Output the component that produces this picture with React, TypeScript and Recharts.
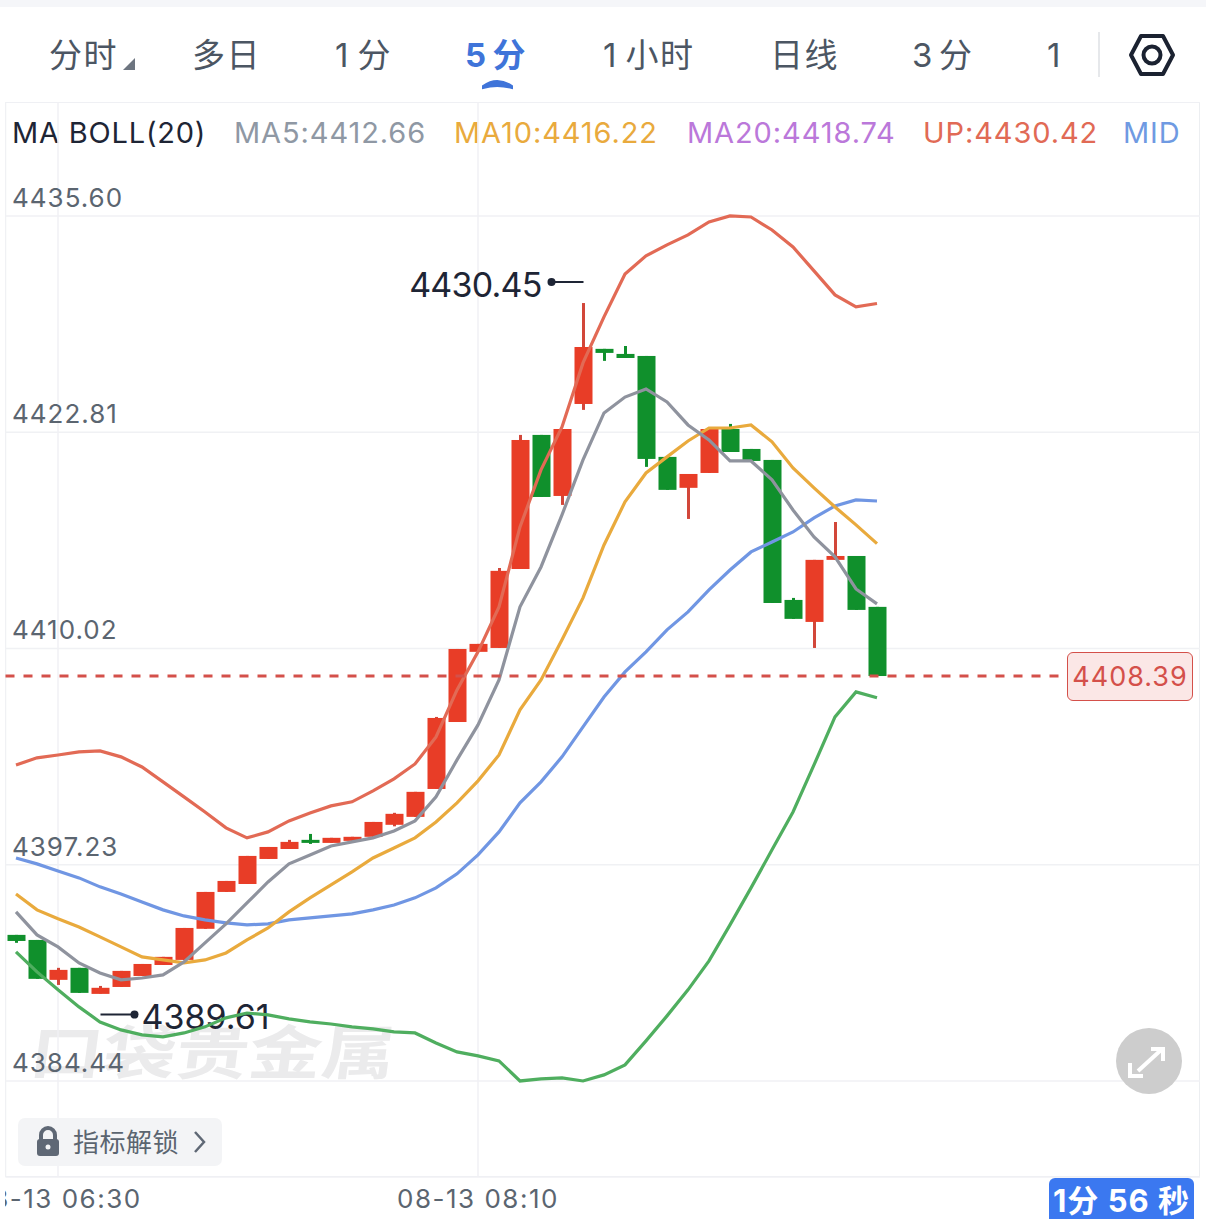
import type React from "react";
import {
  Bar,
  CartesianGrid,
  ComposedChart,
  Line,
  ReferenceLine,
  XAxis,
  YAxis,
} from "recharts";

const times = [
  "06:20", "06:25", "06:30", "06:35", "06:40", "06:45", "06:50", "06:55", "07:00", "07:05",
  "07:10", "07:15", "07:20", "07:25", "07:30", "07:35", "07:40", "07:45", "07:50", "07:55",
  "08:00", "08:05", "08:10", "08:15", "08:20", "08:25", "08:30", "08:35", "08:40", "08:45",
  "08:50", "08:55", "09:00", "09:05", "09:10", "09:15", "09:20", "09:25", "09:30", "09:35",
  "09:40", "09:45", "09:50", "09:55", "10:00", "10:05", "10:10", "10:15", "10:20", "10:25",
  "10:30", "10:35", "10:40", "10:45", "10:50", "10:55", "11:00",
];

const opens = [
  4393.08, 4392.78, 4390.42, 4391.13, 4389.59, 4390.0, 4390.65, 4391.3, 4391.6, 4393.44,
  4395.62, 4396.09, 4397.57, 4398.16, 4398.7, 4398.52, 4398.64, 4398.88, 4399.59, 4400.06,
  4401.71, 4405.67, 4409.82, 4410.05, 4414.72, 4422.65, 4419.04, 4424.48, 4427.74, 4427.44,
  4427.32, 4421.35, 4419.52, 4420.4, 4423.0, 4421.82, 4421.17, 4412.89, 4411.59, 4415.26,
  4415.49, 4412.48,
];
const closes = [
  4392.72, 4390.48, 4391.01, 4389.65, 4389.95, 4390.95, 4391.36, 4391.78, 4393.49, 4395.62,
  4396.27, 4397.75, 4398.28, 4398.58, 4398.52, 4398.82, 4398.88, 4399.76, 4400.24, 4401.54,
  4405.91, 4409.99, 4410.29, 4414.61, 4422.35, 4418.98, 4423.0, 4427.85, 4427.5, 4427.2,
  4421.23, 4419.4, 4420.34, 4423.0, 4421.64, 4421.11, 4412.71, 4411.77, 4415.26, 4415.49,
  4412.3, 4408.39,
];
const highs = [
  4393.08, 4392.78, 4391.13, 4391.13, 4390.06, 4390.95, 4391.36, 4391.78, 4393.49, 4395.62,
  4396.27, 4397.75, 4398.28, 4398.7, 4399.05, 4398.82, 4398.88, 4399.76, 4400.3, 4401.54,
  4405.97, 4409.99, 4410.29, 4414.78, 4422.65, 4422.65, 4423.0, 4430.45, 4427.74, 4427.91,
  4427.32, 4421.35, 4420.34, 4423.0, 4423.3, 4421.82, 4421.17, 4413.01, 4415.26, 4417.5,
  4415.49, 4412.48,
];
const lows = [
  4392.61, 4390.48, 4390.12, 4389.65, 4389.61, 4390.0, 4390.65, 4391.3, 4391.6, 4393.44,
  4395.62, 4396.09, 4397.57, 4398.16, 4398.46, 4398.52, 4398.64, 4398.88, 4399.5, 4400.06,
  4401.71, 4405.67, 4409.82, 4410.05, 4414.72, 4418.98, 4418.51, 4424.13, 4427.03, 4427.2,
  4420.76, 4419.4, 4417.68, 4420.4, 4421.64, 4421.11, 4412.71, 4411.77, 4410.05, 4415.26,
  4412.3, 4408.39,
];

const ma5 = [
  4394.44, 4393.08, 4392.37, 4391.42, 4390.83, 4390.42, 4390.53, 4390.71, 4391.48, 4392.61,
  4393.73, 4394.97, 4396.21, 4397.28, 4397.81, 4398.34, 4398.58, 4398.82, 4399.23, 4399.82,
  4401.24, 4403.43, 4405.5, 4408.16, 4412.48, 4414.84, 4417.92, 4421.17, 4423.95, 4424.89,
  4425.37, 4424.6, 4423.24, 4422.35, 4421.11, 4421.11, 4419.99, 4418.21, 4416.62, 4415.44,
  4413.54, 4412.66,
];
const ma10 = [
  4395.5, 4394.56, 4394.03, 4393.55, 4392.96, 4392.37, 4391.78, 4391.6, 4391.42, 4391.6,
  4392.01, 4392.78, 4393.49, 4394.44, 4395.27, 4396.04, 4396.81, 4397.63, 4398.22, 4398.82,
  4399.76, 4400.89, 4402.19, 4403.72, 4406.39, 4408.16, 4410.53, 4413.01, 4416.14, 4418.69,
  4420.4, 4421.35, 4422.29, 4423.06, 4423.06, 4423.24, 4422.24, 4420.7, 4419.52, 4418.39,
  4417.33, 4416.22,
];
const upper = [
  4403.13, 4403.55, 4403.72, 4403.9, 4403.96, 4403.61, 4403.01, 4402.13, 4401.24, 4400.35,
  4399.41, 4398.82, 4399.17, 4399.82, 4400.29, 4400.71, 4400.95, 4401.6, 4402.31, 4403.19,
  4404.79, 4407.57, 4409.82, 4412.48, 4417.21, 4420.58, 4423.12, 4426.91, 4429.63, 4432.17,
  4433.24, 4433.89, 4434.48, 4435.25, 4435.6, 4435.54, 4434.77, 4433.77, 4432.35, 4430.93,
  4430.22, 4430.42,
];
const middle = [
  4397.63, 4397.28, 4396.86, 4396.45, 4395.92, 4395.5, 4395.03, 4394.56, 4394.2, 4393.97,
  4393.79, 4393.67, 4393.73, 4393.97, 4394.09, 4394.2, 4394.32, 4394.56, 4394.85, 4395.27,
  4395.86, 4396.69, 4397.81, 4399.17, 4400.89, 4402.13, 4403.61, 4405.38, 4407.15, 4408.63,
  4409.82, 4411.12, 4412.18, 4413.48, 4414.66, 4415.73, 4416.32, 4416.91, 4417.74, 4418.45,
  4418.81, 4418.74,
];
const lower = [
  4392.07, 4390.89, 4389.83, 4388.82, 4387.93, 4387.46, 4387.17, 4387.05, 4387.28, 4387.64,
  4388.17, 4388.46, 4388.35, 4388.11, 4387.93, 4387.81, 4387.64, 4387.52, 4387.34, 4387.28,
  4386.69, 4386.16, 4385.92, 4385.63, 4384.44, 4384.56, 4384.62, 4384.44, 4384.8, 4385.39,
  4386.81, 4388.29, 4389.83, 4391.54, 4393.67, 4395.86, 4398.11, 4400.35, 4403.13, 4405.97,
  4407.45, 4407.1,
];

const yTicks = [4384.44, 4397.23, 4410.02, 4422.81, 4435.6];
const xTicks = ["08-13 06:30", "08-13 08:10"];
const lastPrice = 4408.39;
const highMark = 4430.45;
const lowMark = 4389.61;

const tabs = ["分时", "多日", "1分", "5分", "1小时", "日线", "3分", "1"];
const tabLeft = [49, 192, 335, 465, 603, 770, 912, 1047];
const legend = [
  { text: "MA5:4412.66", color: "#8f98a4", left: 234 },
  { text: "MA10:4416.22", color: "#e9aa3d", left: 454 },
  { text: "MA20:4418.74", color: "#bb78da", left: 687 },
  { text: "UP:4430.42", color: "#e16a55", left: 923 },
  { text: "MID", color: "#6f9ae2", left: 1123 },
];

const chartData = times.map((time, i) => ({
  time: `08-13 ${time}`,
  open: opens[i],
  close: closes[i],
  range: highs[i] === undefined ? undefined : [lows[i], highs[i]],
  ma5: ma5[i],
  ma10: ma10[i],
  upper: upper[i],
  middle: middle[i],
  lower: lower[i],
}));

const FONT = 'Inter, "Noto Sans CJK SC", sans-serif';
const RED = "#e83d27";
const RED_WICK = "#d2473a";
const GREEN = "#10902c";
const DARK = "#1e2535";

function Candle(props: any) {
  const { x, y, width, height, payload } = props;
  if (payload.open === undefined || !payload.range) return null;
  const [low, high] = payload.range;
  const perUnit = height / (high - low);
  const toY = (v: number) => y + (high - v) * perUnit;
  const up = payload.close >= payload.open;
  const top = toY(Math.max(payload.open, payload.close));
  const bottom = toY(Math.min(payload.open, payload.close));
  const cx = x + width / 2;
  return (
    <g>
      <line x1={cx} x2={cx} y1={y} y2={y + height} stroke={up ? RED_WICK : GREEN} strokeWidth={3} />
      <rect x={x} y={top} width={width} height={Math.max(bottom - top, 3)} fill={up ? RED : GREEN} />
      {high === highMark ? (
        <g>
          <line x1={cx - 32} x2={cx} y1={y - 21} y2={y - 21} stroke={DARK} strokeWidth={2} />
          <circle cx={cx - 32} cy={y - 21} r={4} fill={DARK} />
          <text x={cx - 42} y={y - 6} textAnchor="end" fontSize={34} letterSpacing={-0.8} fill={DARK} fontFamily={FONT}>
            {highMark.toFixed(2)}
          </text>
        </g>
      ) : null}
      {low === lowMark ? (
        <g>
          <line x1={cx} x2={cx + 34} y1={y + height + 21} y2={y + height + 21} stroke={DARK} strokeWidth={2} />
          <circle cx={cx + 34} cy={y + height + 21} r={4} fill={DARK} />
          <text x={cx + 41} y={y + height + 35} fontSize={34} letterSpacing={0} fill={DARK} fontFamily={FONT}>
            {lowMark.toFixed(2)}
          </text>
        </g>
      ) : null}
    </g>
  );
}

function PriceTick(props: any) {
  const { y, payload } = props;
  return (
    <text x={7} y={y - 9} fontSize={26} letterSpacing={1} fill="#5b6570" fontFamily={FONT}>
      {Number(payload.value).toFixed(2)}
    </text>
  );
}

function LastPriceLine(props: any) {
  const { x1, y1 } = props;
  return <line x1={x1} x2={1055} y1={y1} y2={y1} stroke="#d4504a" strokeWidth={3} strokeDasharray="9 9" />;
}

const abs = (left: number, top: number): React.CSSProperties => ({
  position: "absolute",
  left,
  top,
  whiteSpace: "nowrap",
  fontFamily: FONT,
});

export default function App() {
  return (
    <div style={{ position: "absolute", left: 0, top: 0, width: 1206, height: 1219, background: "#fff", overflow: "hidden" }}>
      <div style={{ position: "absolute", left: 0, top: 0, width: 1206, height: 7, background: "#f5f6f9" }} />

      {tabs.map((tab, i) => {
        const digit = /^\d/.test(tab) ? tab[0] : "";
        return (
          <div
            key={tab}
            style={{
              ...abs(tabLeft[i], 33),
              fontSize: 33,
              lineHeight: "44px",
              letterSpacing: 1.5,
              color: i === 3 ? "#3f74d9" : "#4c5663",
              fontWeight: i === 3 ? 700 : 400,
            }}
          >
            <span style={{ letterSpacing: digit === "1" ? 9 : 6.5 }}>{digit}</span>
            {tab.slice(digit.length)}
          </div>
        );
      })}
      <svg style={{ position: "absolute", left: 0, top: 0 }} width={1206} height={100}>
        <path d="M135 58 L135 70 L123 70 Z" fill="#6d7580" />
        <path d="M483 86 Q497 76 512 86 L512 88 Q497 84 483 88 Z" fill="#3f74d9" stroke="#3f74d9" strokeWidth={2} />
        <line x1={1099} x2={1099} y1={32} y2={77} stroke="#e6e8eb" strokeWidth={2} />
        <path d="M1141 36 L1163 36 L1173 55 L1163 74 L1141 74 L1131 55 Z" fill="none" stroke="#1b2231" strokeWidth={4} strokeLinejoin="round" />
        <circle cx={1152} cy={55} r={8.5} fill="none" stroke="#1b2231" strokeWidth={4} />
      </svg>

      {/* frame */}
      <div style={{ position: "absolute", left: 5, top: 102, width: 1195, height: 1075, border: "1px solid #eceef1", boxSizing: "border-box" }} />

      <div style={{ ...abs(12, 113), fontSize: 29, lineHeight: "40px", color: DARK, letterSpacing: 0.8 }}>MA BOLL(20)</div>
      {legend.map((item) => (
        <div key={item.text} style={{ ...abs(item.left, 113), fontSize: 29, lineHeight: "40px", color: item.color, letterSpacing: 0.9 }}>
          {item.text}
        </div>
      ))}

      {/* watermark */}
      <div
        style={{
          ...abs(34, 1024),
          fontSize: 73,
          lineHeight: "74px",
          fontWeight: 700,
          color: "#ebebec",
          transform: "scaleY(0.8) skewX(-6deg)",
          transformOrigin: "left top",
        }}
      >
        口袋贵金属
      </div>

      <div style={{ position: "absolute", left: 5, top: 102, width: 1195, height: 1117, overflow: "hidden" }}>
        <ComposedChart
          width={1198}
          height={1117}
          data={chartData}
          margin={{ top: 0, right: 0.5, bottom: 0, left: 0.5 }}
          barSize={18}
        >
          <CartesianGrid stroke="#f0f1f4" strokeWidth={1.5} />
          <XAxis
            dataKey="time"
            ticks={xTicks}
            interval={0}
            height={42}
            tickLine={false}
            axisLine={false}
            tick={{ fontSize: 26, fill: "#5b6570", fontFamily: FONT, letterSpacing: 1.5 }}
            tickMargin={7}
          />
          <YAxis
            type="number"
            mirror
            width={120}
            domain={[4378.76, 4442.34]}
            ticks={yTicks}
            interval={0}
            allowDataOverflow
            tickLine={false}
            axisLine={false}
            tick={<PriceTick />}
          />
          <Bar dataKey="range" shape={<Candle />} isAnimationActive={false} />
          <Line dataKey="upper" stroke="#e26a55" strokeWidth={3.2} dot={false} isAnimationActive={false} />
          <Line dataKey="middle" stroke="#7096e3" strokeWidth={3.2} dot={false} isAnimationActive={false} />
          <Line dataKey="ma10" stroke="#e9aa3d" strokeWidth={3.2} dot={false} isAnimationActive={false} />
          <Line dataKey="ma5" stroke="#8f939e" strokeWidth={3.2} dot={false} isAnimationActive={false} />
          <Line dataKey="lower" stroke="#4fae5f" strokeWidth={3.2} dot={false} isAnimationActive={false} />
          <ReferenceLine y={lastPrice} shape={<LastPriceLine />} />
        </ComposedChart>
      </div>

      {/* last price tag */}
      <div
        style={{
          ...abs(1067, 652),
          width: 126,
          height: 49,
          boxSizing: "border-box",
          background: "#fbe7e6",
          border: "1.5px solid #d4504a",
          borderRadius: 6,
          color: "#d4504a",
          fontSize: 27,
          lineHeight: "47px",
          letterSpacing: 1,
          textAlign: "center",
        }}
      >
        {lastPrice.toFixed(2)}
      </div>

      {/* indicator unlock */}
      <div style={{ position: "absolute", left: 18, top: 1118, width: 204, height: 48, background: "#f3f4f6", borderRadius: 7 }} />
      <svg style={{ position: "absolute", left: 0, top: 1100 }} width={240} height={80}>
        <path d="M41 40 V35 a7 7 0 0 1 14 0 V40" fill="none" stroke="#5f6875" strokeWidth={4} />
        <rect x={37} y={39} width={22} height={17} rx={3} fill="#5f6875" />
        <circle cx={48} cy={47} r={2.5} fill="#f3f4f6" />
        <path d="M195 32 L204 42 L195 52" fill="none" stroke="#5f6875" strokeWidth={2.5} />
      </svg>
      <div style={{ ...abs(73, 1126), fontSize: 26, lineHeight: "34px", letterSpacing: 0.5, color: "#5b6570" }}>指标解锁</div>

      {/* expand */}
      <svg style={{ position: "absolute", left: 1110, top: 1022 }} width={80} height={80}>
        <circle cx={39} cy={39} r={33} fill="#cdcdcd" />
        <path d="M28 49 L51 28 M41 27 H53 V39 M20 41 V54 H33" fill="none" stroke="#fff" strokeWidth={4} />
      </svg>

      {/* countdown */}
      <div
        style={{
          ...abs(1049, 1178),
          width: 145,
          height: 41,
          background: "#3b78f0",
          borderRadius: "6px 6px 0 0",
          color: "#fff",
          fontSize: 31,
          fontWeight: 700,
          lineHeight: "46px",
          textAlign: "center",
          letterSpacing: 1,
        }}
      >
        1分 56 秒
      </div>
    </div>
  );
}
